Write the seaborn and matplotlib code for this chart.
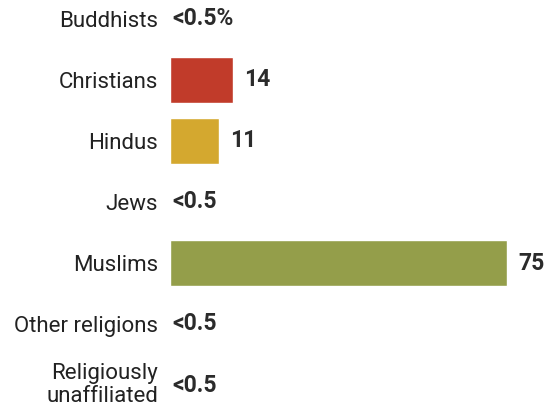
import matplotlib
matplotlib.use('Agg')
import matplotlib.pyplot as plt
import matplotlib.transforms as mtransforms
import seaborn as sns
import pandas as pd

# dados
categorias = ['Buddhists', 'Christians', 'Hindus', 'Jews', 'Muslims',
              'Other religions', 'Religiously\nunaffiliated']
valores = [0, 14, 11, 0, 75, 0, 0]
rotulos = ['<0.5%', '14', '11', '<0.5', '75', '<0.5', '<0.5']
cores = ['#ffffff', '#C13B2A', '#D4A82F', '#ffffff', '#949E4A', '#ffffff', '#ffffff']

df = pd.DataFrame({'religiao': categorias, 'valor': valores})

sns.set_style('white')
plt.rcParams['font.family'] = ['Roboto', 'DejaVu Sans']

fig = plt.figure(figsize=(5.49, 4.08), dpi=100)
ax = fig.add_axes([170 / 549, 0, 1 - 170 / 549, 1])

sns.barplot(data=df, x='valor', y='religiao', hue='religiao',
            palette=dict(zip(categorias, cores)), orient='h',
            width=0.75, legend=False, ax=ax, saturation=1)

ax.set_xlim(0, (549 - 170) / (337 / 75))
ax.set_ylim((408 - 19) / 61, -19 / 61)

# rotulos de valor
px = 75 / 337
for i, (v, r) in enumerate(zip(valores, rotulos)):
    off = 11 * px if v > 0 else 2 * px
    ax.text(v + off, i, r, va='center', ha='left', fontsize=16.5,
            fontweight='bold', color='#2b2b2b')

ax.set_xlabel('')
ax.set_ylabel('')
ax.set_xticks([])
ax.tick_params(axis='y', length=0, pad=8.5, labelsize=16, labelcolor='#222222')
labels = ax.get_yticklabels()
for t in labels:
    t.set_linespacing(1.1)
# sobe um pouco o ultimo rotulo para nao cortar na borda
deslocamento = mtransforms.ScaledTranslation(0, 3 / 100, fig.dpi_scale_trans)
labels[-1].set_transform(labels[-1].get_transform() + deslocamento)
sns.despine(ax=ax, left=True, bottom=True)

fig.savefig('out.png', dpi=100)
